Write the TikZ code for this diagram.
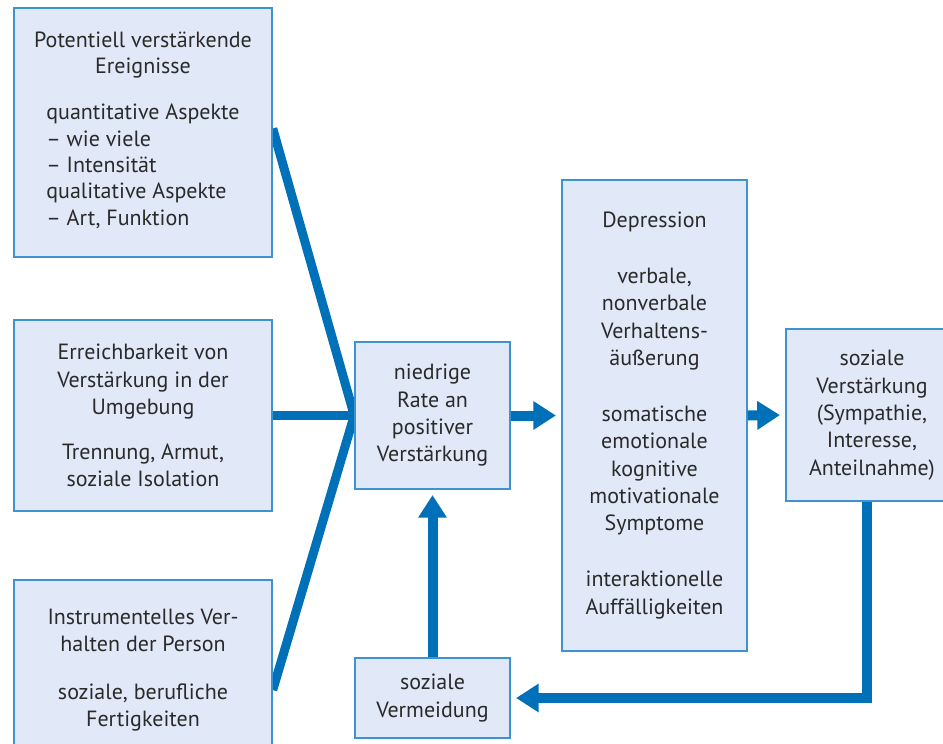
\documentclass[tikz,border=0pt]{standalone}
\usepackage{fontspec}
\setmainfont{PT Sans}
\usetikzlibrary{arrows.meta,calc,backgrounds}
\definecolor{boxfill}{HTML}{E1E8F7}
\definecolor{boxdraw}{HTML}{3D93CF}
\definecolor{flow}{HTML}{0070B8}
\definecolor{txt}{HTML}{2A2A2A}
\tikzset{
  x=0.75pt, y=-0.75pt,
  box/.style={draw=boxdraw, fill=boxfill, line width=1.1pt, align=center,
    inner sep=0pt, text=txt, font=\fontsize{16.5}{20.5}\selectfont},
  feed/.style={draw=flow, line width=6.75pt},
  flowarrow/.style={draw=flow, line width=7.5pt,
    -{Triangle[length=17pt,width=20.5pt]}, shorten >=4pt}
}
\begin{document}
\begin{tikzpicture}
\useasboundingbox (0,0) rectangle (943,743);
\clip (0,0) rectangle (943,743);

\node[box, minimum width=193.5pt, minimum height=186.75pt,
  font=\fontsize{16.5}{19.7}\selectfont] (A) at (143,132.5)
  {Potentiell verstärkende\\Ereignisse\\[14.8pt]
   \begin{tabular}[t]{@{}l@{}}quantitative Aspekte\\– wie viele\\– Intensität\\qualitative Aspekte\\– Art, Funktion\end{tabular}};

\node[box, minimum width=193.5pt, minimum height=143.25pt] (B) at (143,415.5)
  {Erreichbarkeit von\\Verstärkung in der\\Umgebung\\[13.2pt]Trennung, Armut,\\soziale Isolation};

\node[box, minimum width=193.5pt, minimum height=135pt] (C) at (143,670)
  {Instrumentelles Ver-\\halten der Person\\[15.5pt]soziale, berufliche\\Fertigkeiten};

\node[box, minimum width=116.25pt, minimum height=110.25pt] (D) at (432.5,415.5)
  {niedrige\\Rate an\\positiver\\Verstärkung};

\node[box, minimum width=138.75pt, minimum height=353.25pt] (E) at (654.5,415.5)
  {Depression\\[21.5pt]verbale,\\nonverbale\\Verhaltens-\\äußerung\\[21.5pt]somatische\\emotionale\\kognitive\\motivationale\\Symptome\\[21.5pt]interaktionelle\\Auffälligkeiten};

\node[box, minimum width=129pt, minimum height=129pt] (F) at (872,415)
  {soziale\\Verstärkung\\(Sympathie,\\Interesse,\\Anteilnahme)};

\node[box, minimum width=116.25pt, minimum height=60pt] (V) at (432.5,698)
  {soziale\\Vermeidung};

\begin{scope}[on background layer]
  \draw[feed, line join=miter] ($(A.east)+(0,-4)$) -- (D.west) -- ($(C.east)+(0,20)$);
  \draw[feed] (B.east) -- (D.west);
\end{scope}

\draw[flowarrow] (D.east) -- (E.west);
\draw[flowarrow] (E.east) -- (F.west);
\draw[flowarrow] (V.north) -- (D.south);
\coordinate (Fout) at ($(F.south)+(-5,0)$);
\draw[flowarrow, line join=miter] (Fout) |- (V.east);
\end{tikzpicture}
\end{document}
